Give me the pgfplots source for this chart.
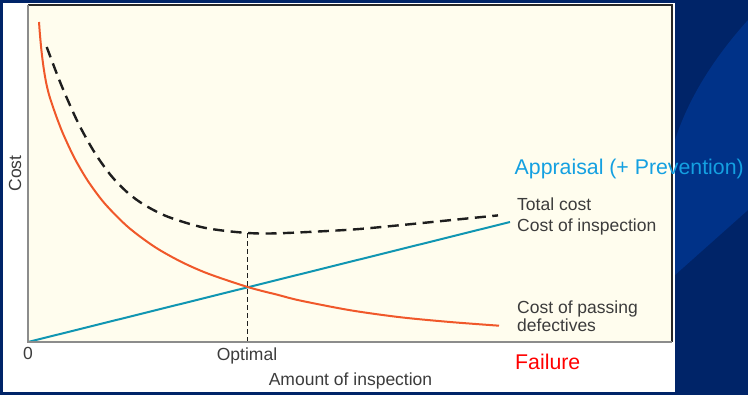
\documentclass[border=0pt]{standalone}
\usepackage{pgfplots}
\pgfplotsset{compat=1.18}
\usepackage{fontspec}
\setmainfont{Liberation Sans}
\definecolor{navy}{RGB}{0,36,104}
\definecolor{arcblue}{RGB}{0,50,136}
\definecolor{cream}{RGB}{255,253,238}
\definecolor{framegray}{RGB}{140,140,140}
\definecolor{framedark}{RGB}{40,40,40}
\definecolor{labelgray}{RGB}{60,60,60}
\definecolor{redcurve}{RGB}{240,88,42}
\definecolor{tealc}{RGB}{16,150,178}
\definecolor{dashc}{RGB}{30,30,30}
\definecolor{cyanlabel}{RGB}{20,160,225}
\definecolor{failred}{RGB}{255,0,0}
\newcommand{\lblfont}{\fontsize{17.5bp}{21bp}\selectfont}
\newcommand{\bigfont}{\fontsize{21.3bp}{25bp}\selectfont}
\begin{document}
\begin{tikzpicture}
\fill[navy] (0,0) rectangle (748bp,395bp);
\fill[arcblue] (748bp,375bp) .. controls (712bp,335bp) and (688bp,295bp) .. (675bp,255bp) -- (675bp,120bp) -- (748bp,185bp) -- cycle;
\fill[white] (3bp,3bp) rectangle (675bp,392bp);
\begin{axis}[
  at={(28bp,53bp)}, anchor=south west,
  scale only axis, width=644bp, height=337bp,
  xmin=0, xmax=644, ymin=0, ymax=337,
  clip=false,
  axis background/.style={fill=cream},
  axis line style={draw=none},
  xtick={0,219}, xticklabels={0,Optimal},
  ytick=\empty,
  major tick length=0pt,
  xticklabel style={font=\lblfont, text=labelgray, yshift=-2bp},
  xlabel={Amount of inspection},
  ylabel={Cost},
  every axis x label/.style={at={(axis description cs:0.5008,-0.116)}, anchor=center, font=\lblfont, text=labelgray},
  every axis y label/.style={at={(axis description cs:-0.02,0.5)}, rotate=90, anchor=center, font=\lblfont, text=labelgray},
]
\addplot[tealc, line width=2bp] coordinates {(0,0) (482,120)};
\addplot[redcurve, line width=2bp, smooth] coordinates {
(11,320) (12,306.8) (13.5,291) (15.5,275) (18,260) (21,247.4) (25,235) (30,221)
(36,206.1) (46.7,183.5) (60,160.9) (76.7,138.5) (100,115) (126.7,95.1) (153,80.3)
(180,68.4) (220,54.9) (250,47.1) (272,41.5) (322,31.8) (372,24.8) (422,20) (471,16.3)};
\addplot[dashc, line width=2.4bp, smooth, dash pattern=on 11bp off 6.5bp] coordinates {
(18.7,295) (33,257.7) (50,219.4) (66.7,189.3) (83.3,166.1) (100,149) (116.7,136.9)
(140,125.2) (176.7,114.2) (217,109.2) (250,108.7) (322,112.3) (372,116.8) (422,121.8) (470,126.6)};
\addplot[dashc, line width=1bp, dash pattern=on 5bp off 3bp] coordinates {(219,0) (219,109.3)};
\draw[framedark, line width=1.2bp] (rel axis cs:0,1) -- (rel axis cs:1,1) -- (rel axis cs:1,0);
\draw[framegray, line width=2bp] (rel axis cs:0,1) -- (rel axis cs:0,0) -- (rel axis cs:1,0);
\node[anchor=base west, inner sep=0pt, font=\lblfont, text=labelgray] at (axis cs:489,131.3) {Total cost};
\node[anchor=base west, inner sep=0pt, font=\lblfont, text=labelgray] at (axis cs:489,110.3) {Cost of inspection};
\node[anchor=base west, inner sep=0pt, font=\lblfont, text=labelgray] at (axis cs:489,28.7) {Cost of passing};
\node[anchor=base west, inner sep=0pt, font=\lblfont, text=labelgray] at (axis cs:489,10.3) {defectives};
\node[anchor=base west, inner sep=0pt, font=\bigfont, text=cyanlabel] at (axis cs:486.5,167) {Appraisal (+ Prevention)};
\node[anchor=base west, inner sep=0pt, font=\bigfont, text=failred] at (axis cs:487,-28) {Failure};
\end{axis}
\pgfresetboundingbox
\useasboundingbox (0,0) rectangle (748bp,395bp);
\end{tikzpicture}
\end{document}
